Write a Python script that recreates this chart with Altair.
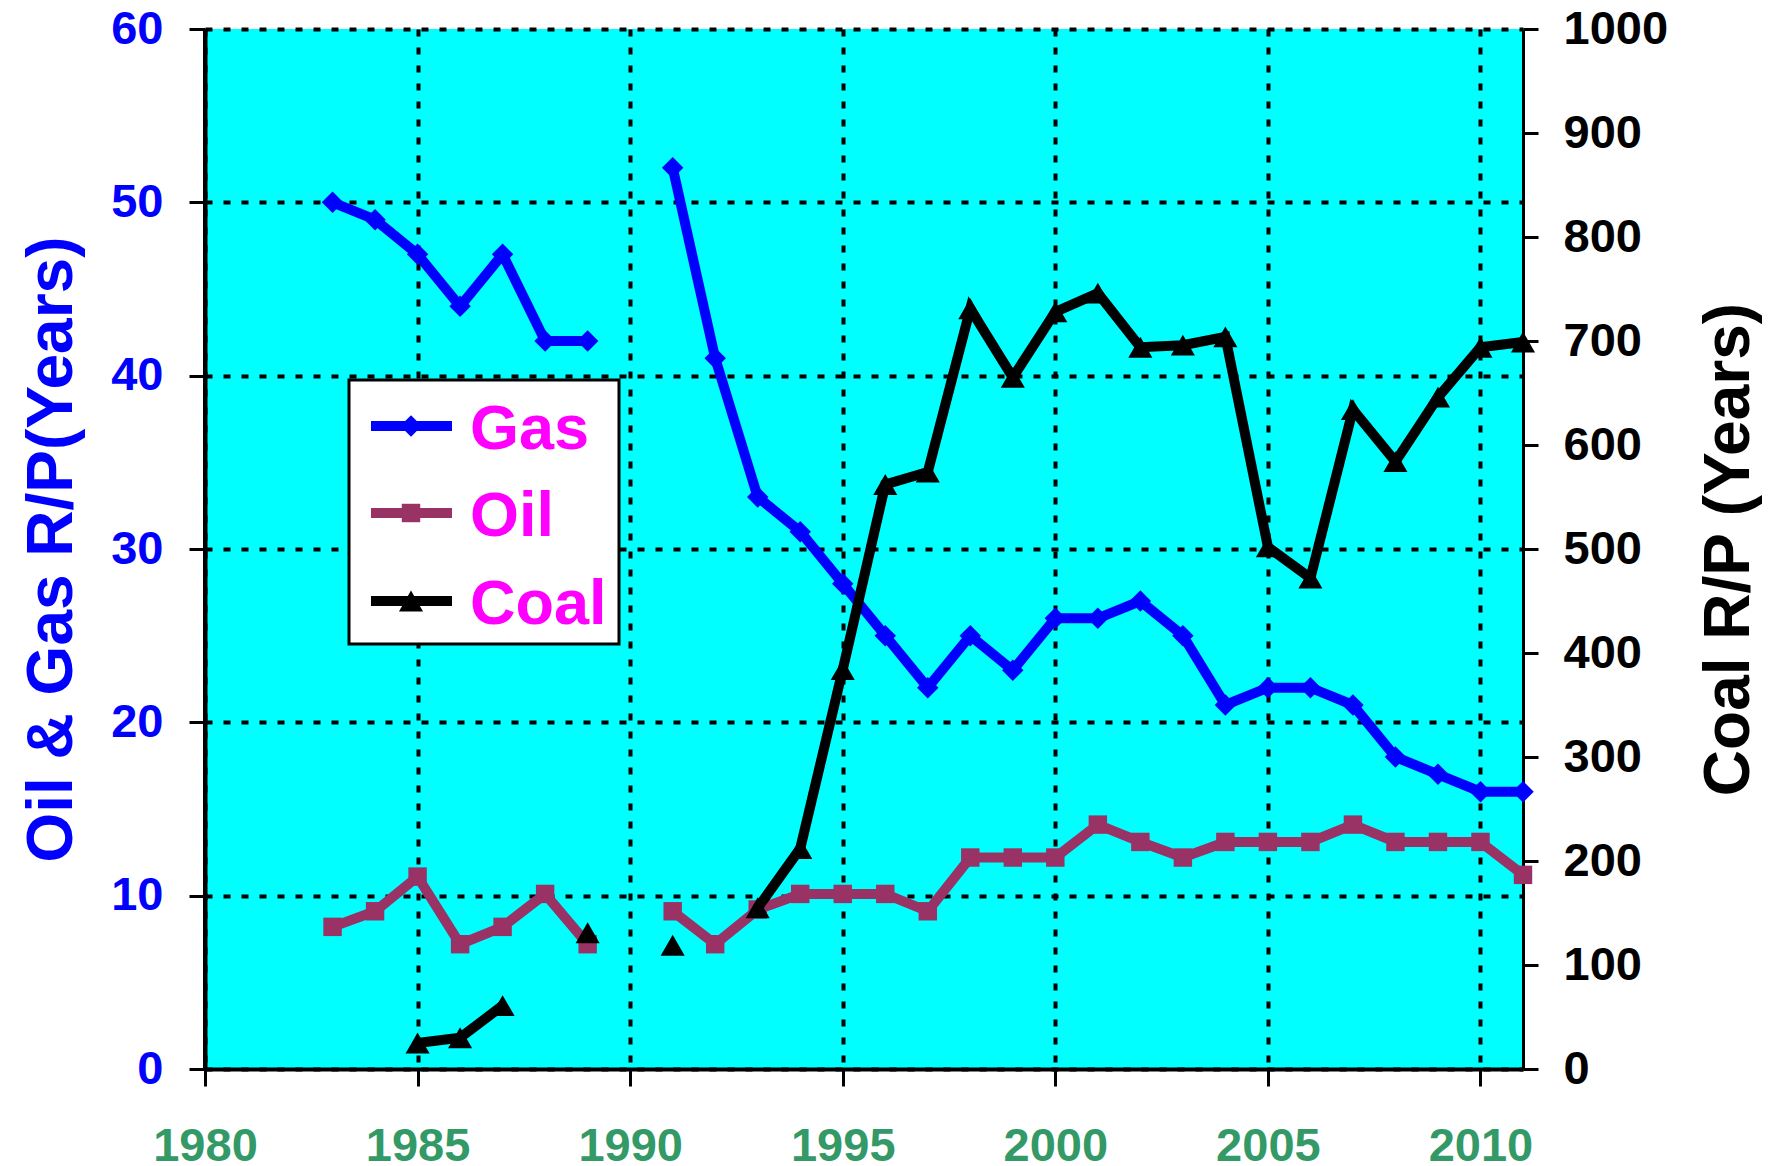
import altair as alt
import pandas as pd

# ---------------- data ----------------
YEARS = list(range(1983, 2012))
GAS = [50, 49, 47, 44, 47, 42, 42, None, 52, 41, 33, 31, 28, 25, 22, 25, 23,
       26, 26, 27, 25, 21, 22, 22, 21, 18, 17, 16, 16]
OIL = [8.2, 9.1, 11.1, 7.2, 8.2, 10.1, 7.2, None, 9.1, 7.2, 9.2, 10.1, 10.1,
       10.1, 9.1, 12.2, 12.2, 12.2, 14.1, 13.1, 12.2, 13.1, 13.1, 13.1, 14.1,
       13.1, 13.1, 13.1, 11.2]
COAL = [None, None, 25, 30, 61, None, 131, None, 119, None, 155, 212, 384,
        562, 574, 731, 665, 728, 746, 694, 696, 704, 502, 472, 634, 584, 646,
        694, 699]
SERIES = ["Gas", "Oil", "Coal"]
COLORS = ["#0000FF", "#993366", "#000000"]
SHAPES = ["diamond", "square", "triangle-up"]
X_TICKS = [1980, 1985, 1990, 1995, 2000, 2005, 2010]
LEFT_TICKS = [0, 10, 20, 30, 40, 50, 60]
RIGHT_TICKS = [0, 100, 200, 300, 400, 500, 600, 700, 800, 900, 1000]


def rows(name, values):
    out, seg = [], 0
    for yr, v in zip(YEARS, values):
        if v is None:
            seg += 1
            continue
        out.append({"year": yr, "value": v, "series": name, "seg": f"{name}{seg}"})
    return out


left_df = pd.DataFrame(rows("Gas", GAS) + rows("Oil", OIL))
coal_df = pd.DataFrame(rows("Coal", COAL))

FONT = "Liberation Sans"
W, H = 1318, 1040
LBL = 47
GRID_DASH = [7, 11]
GRID_W = 4
LINE_W = 10
MARK_SIZE = [460, 340, 580]

x_enc = alt.X(
    "year:Q",
    scale=alt.Scale(domain=[1980, 2011], nice=False, zero=False),
    axis=alt.Axis(
        values=X_TICKS, format="d", title=None, labelFlush=False, labelOverlap=False,
        grid=True, gridColor="black", gridDash=GRID_DASH, gridWidth=GRID_W, gridOpacity=1,
        labelColor="#339966", labelFontSize=LBL, labelFont=FONT, labelFontWeight="bold",
        labelPadding=37, tickSize=17, tickWidth=3, tickColor="black",
        domainColor="black", domainWidth=4,
    ),
)

left_y = alt.Y(
    "value:Q",
    scale=alt.Scale(domain=[0, 60], nice=False),
    axis=alt.Axis(
        orient="left", values=LEFT_TICKS, labelOverlap=False,
        grid=True, gridColor="black", gridDash=GRID_DASH, gridWidth=GRID_W, gridOpacity=1,
        labelColor="#0000FF", labelFontSize=LBL, labelFont=FONT, labelFontWeight="bold",
        labelPadding=26, tickSize=16, tickWidth=3, tickColor="black",
        domainColor="black", domainWidth=4,
        title="Oil & Gas R/P(Years)", titleColor="#0000FF", titleFont=FONT,
        titleFontSize=64, titleFontWeight="bold", titlePadding=26,
    ),
)

right_y = alt.Y(
    "value:Q",
    scale=alt.Scale(domain=[0, 1000], nice=False),
    axis=alt.Axis(
        orient="right", values=RIGHT_TICKS, format="d", grid=False, labelOverlap=False,
        labelColor="black", labelFontSize=LBL, labelFont=FONT, labelFontWeight="bold",
        labelPadding=25, tickSize=15, tickWidth=3, tickColor="black",
        domainColor="black", domainWidth=3,
        title="Coal R/P (Years)", titleColor="black", titleFont=FONT,
        titleFontSize=64, titleFontWeight="bold", titlePadding=30,
        titleAngle=270, titleBaseline="top",
    ),
)

col_scale = alt.Scale(domain=SERIES[:2], range=COLORS[:2])

left_line = alt.Chart(left_df).mark_line(strokeWidth=LINE_W).encode(
    x=x_enc, y=left_y,
    color=alt.Color("series:N", scale=col_scale, legend=None),
    detail="seg:N",
)
left_pts = alt.Chart(left_df).mark_point(filled=True, opacity=1).encode(
    x=x_enc, y=left_y,
    color=alt.Color("series:N", scale=col_scale, legend=None),
    shape=alt.Shape("series:N", scale=alt.Scale(domain=SERIES[:2], range=SHAPES[:2]), legend=None),
    size=alt.Size("series:N", scale=alt.Scale(domain=SERIES[:2], range=MARK_SIZE[:2]), legend=None),
)
left_layer = alt.layer(left_line, left_pts)

coal_line = alt.Chart(coal_df).mark_line(strokeWidth=LINE_W, color="black").encode(
    x=x_enc, y=right_y, detail="seg:N",
)
coal_pts = alt.Chart(coal_df).mark_point(
    filled=True, opacity=1, color="black", shape="triangle-up", size=MARK_SIZE[2]
).encode(x=x_enc, y=right_y)
coal_layer = alt.layer(coal_line, coal_pts)

one = alt.Data(values=[{}])

# solid left frame edge (the 1980 grid line would otherwise show dashed)
left_edge = alt.Chart(one).mark_rule(color="black", strokeWidth=4).encode(
    x=alt.value(0), y=alt.value(0), y2=alt.value(H)
)

# ---------------- legend box ----------------
legend_layers = [
    alt.Chart(one).mark_rect(fill="white", stroke="black", strokeWidth=3).encode(
        x=alt.value(144), x2=alt.value(414), y=alt.value(351), y2=alt.value(615)
    )
]
LEG_Y = [397, 484, 572]
for name, c, shp, yy, sz in zip(SERIES, COLORS, SHAPES, LEG_Y, MARK_SIZE):
    legend_layers.append(
        alt.Chart(one).mark_rule(color=c, strokeWidth=LINE_W).encode(
            x=alt.value(166), x2=alt.value(247), y=alt.value(yy)
        )
    )
    legend_layers.append(
        alt.Chart(one).mark_point(filled=True, opacity=1, color=c, shape=shp, size=sz).encode(
            x=alt.value(206), y=alt.value(yy)
        )
    )
    legend_layers.append(
        alt.Chart(one).mark_text(
            text=name, color="#FF00FF", font=FONT, fontSize=63, fontWeight="bold",
            align="left", baseline="alphabetic",
        ).encode(x=alt.value(265), y=alt.value(yy + 23))
    )

chart = (
    alt.layer(left_layer, coal_layer, left_edge, *legend_layers)
    .resolve_scale(y="independent")
    .properties(
        width=W, height=H,
        autosize=alt.AutoSizeParams(type="none"),
        padding={"left": 197, "top": 21, "right": 240, "bottom": 95},
        background="white",
    )
    .configure_view(fill="#00FFFF", stroke=None)
)

chart.save("out.html", embed_options={"renderer": "svg", "actions": False})
